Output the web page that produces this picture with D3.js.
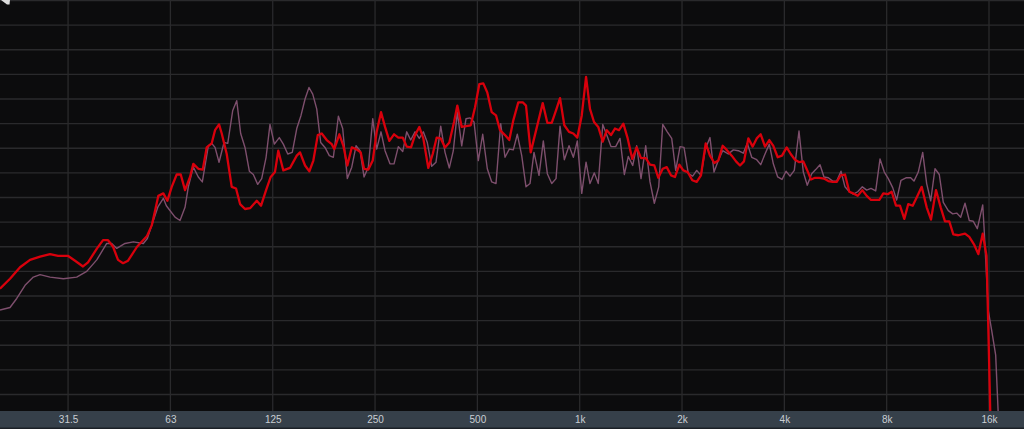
<!DOCTYPE html>
<html>
<head>
<meta charset="utf-8">
<script src="https://cdn.jsdelivr.net/npm/d3@7/dist/d3.min.js"></script>
<style>
  html, body { margin: 0; padding: 0; background: #0c0c0d; overflow: hidden; }
  svg { display: block; }
</style>
</head>
<body>
<svg id="chart" width="1024" height="429"></svg>
<script>
// ---- data (frequency in Hz, level in dB) ----
const tickFreqs  = [31.25, 62.5, 125, 250, 500, 1000, 2000, 4000, 8000, 16000];
const tickLabels = ["31.5", "63", "125", "250", "500", "1k", "2k", "4k", "8k", "16k"];
const gridLevels = [0, -3, -6, -9, -12, -15, -18, -21, -24, -27, -30, -33, -36, -39, -42, -45, -48];

const redFreq = [19.7,21.09,22.57,24.15,25.85,27.66,29.2,31.2,32.76,34.58,35.77,38.02,39.6,40.97,42.38,43.83,45.35,46.91,49.86,53.35,
55.08,56.33,57.6,59.58,61.22,63.06,65.23,67.03,69.01,71.38,73.0,75.51,77.8,79.93,82.69,84.56,86.89,88.49,91.53,94.69,
97.49,100.2,103.6,107.2,112.2,115.5,119.5,123.3,126.9,129.8,134.3,140.5,147.1,150.4,155.6,160.2,164.6,169.6,174.2,180.2,
186.4,189.7,196.3,201.7,207.2,213.5,219.8,226.9,232.0,238.9,246.1,252.8,260.3,267.5,275.4,284.3,292.7,301.5,309.8,319.0,
327.8,337.4,346.7,358.6,369.5,379.6,390.1,401.6,413.5,426.9,436.5,449.7,463.0,478.0,492.2,506.6,520.5,534.8,551.0,567.3,
582.9,602.9,620.7,637.8,659.8,679.8,695.1,717.6,778.4,803.1,827.4,851.8,875.2,901.1,930.3,957.8,984.1,1014,1044,1072,
1102,1134,1169,1201,1236,1270,1305,1344,1384,1428,1471,1515,1564,1610,1658,1703,1755,1803,1856,1907,
1964,2017,2078,2144,2209,2274,2348,2417,2489,2557,2634,2707,2800,2883,2962,3043,3134,3228,3317,3408,
3509,3613,3712,3824,3937,4064,4176,4299,4426,4548,4672,4791,4923,5068,5232,5387,5550,5703,5859,6032,
6211,6381,6575,6783,6988,7194,7392,7611,7820,8055,8276,8521,8755,9014,9261,9542,9803,10141,10490,10802,
11173,11534,11876,12227,12563,12997,13600,14001,14453,14883,15333,15733,15926,16183];
const redLevel = [-35.1,-33.9,-32.5,-31.6,-31.2,-30.9,-31.1,-31.1,-31.7,-32.4,-31.9,-30.2,-29.2,-29.2,-30.0,-31.6,-32.0,-31.7,-30.0,-28.7,
-27.4,-25.6,-23.8,-23.5,-24.4,-22.7,-21.2,-21.2,-23.1,-21.5,-19.9,-20.5,-20.6,-17.9,-17.4,-15.8,-15.1,-16.2,-18.7,-22.7,
-22.9,-24.8,-25.4,-25.3,-24.4,-25.0,-23.1,-21.5,-20.9,-18.3,-20.7,-20.4,-18.9,-18.5,-20.1,-20.8,-19.5,-16.4,-16.2,-17.0,
-17.5,-18.1,-16.3,-17.7,-20.1,-17.9,-18.1,-18.5,-20.5,-20.6,-19.5,-16.0,-13.6,-15.4,-17.1,-16.3,-16.7,-16.7,-17.8,-17.9,
-16.4,-15.4,-16.8,-20.4,-18.7,-16.7,-16.8,-17.9,-17.3,-14.8,-12.8,-15.4,-15.3,-15.2,-13.0,-10.2,-10.1,-11.2,-13.6,-14.0,
-15.8,-16.4,-17.0,-14.6,-12.4,-12.4,-12.8,-18.5,-12.5,-14.9,-14.9,-13.4,-11.9,-15.2,-16.0,-16.2,-16.7,-14.0,-9.3,-13.2,
-14.8,-15.4,-17.2,-15.8,-16.4,-15.6,-15.8,-15.0,-16.8,-19.3,-17.9,-19.2,-19.2,-20.0,-20.1,-21.6,-20.5,-20.3,-21.3,-21.5,
-20.0,-20.7,-20.9,-21.9,-22.1,-21.3,-17.4,-18.9,-19.8,-19.5,-17.7,-18.2,-18.9,-19.6,-20.1,-19.6,-16.8,-17.8,-16.8,-16.3,
-17.8,-17.0,-17.7,-19.1,-18.9,-17.9,-18.7,-19.4,-19.7,-19.6,-20.7,-21.8,-21.6,-21.6,-21.7,-22.0,-22.1,-22.1,-21.3,-21.2,
-23.3,-23.5,-23.8,-23.1,-23.8,-24.3,-24.3,-24.3,-23.5,-23.6,-23.3,-25.0,-25.0,-26.6,-24.8,-25.0,-24.0,-22.7,-25.2,-26.7,
-23.1,-25.2,-26.9,-26.9,-28.5,-28.6,-28.4,-28.8,-29.7,-30.9,-28.4,-31.1,-39.8,-52.4];

const mauveFreq = [19.7,21.09,22.07,23.35,24.7,25.85,27.66,30.27,33.13,35.46,37.95,40.61,42.0,43.45,45.96,48.62,52.03,53.46,55.68,57.49,
59.58,60.81,64.49,66.71,69.01,70.57,73.0,75.51,77.59,80.81,82.69,84.56,86.89,89.87,92.16,95.33,97.95,100.6,103.6,106.7,
109.6,112.9,116.0,119.5,122.7,126.4,130.7,134.3,138.4,142.7,147.1,151.4,155.6,159.8,163.9,168.4,173.0,178.1,183.4,188.5,
195.0,200.8,207.2,213.5,219.8,225.8,232.0,238.9,246.1,252.8,260.3,267.5,276.6,284.3,292.7,301.5,309.8,318.3,327.8,337.4,
346.7,356.2,367.0,377.8,390.1,401.6,413.5,424.8,436.5,449.7,463.0,475.8,488.8,503.2,518.4,534.8,551.0,567.3,585.6,602.9,
620.7,637.8,655.4,675.2,695.1,714.2,733.8,759.1,781.6,803.1,827.4,851.8,875.2,901.1,930.3,957.8,984.1,1014,1044,1072,
1104,1134,1169,1201,1236,1276,1314,1353,1390,1432,1471,1515,1564,1610,1658,1708,1755,1810,1865,1916,
1973,2027,2087,2150,2209,2274,2342,2417,2484,2557,2634,2736,2831,2928,3029,3112,3207,3317,3408,3509,
3613,3712,3824,3937,4045,4156,4279,4417,4548,4672,4814,4946,5093,5232,5387,5550,5703,5871,6032,6211,
6381,6575,6783,6988,7194,7427,7647,7873,8088,8333,8561,8815,9118,9413,9625,9911,10211,10490,10779,11098,
11425,11740,12145,12513,12856,13209,13600,14001,14386,14782,15333,15466,15926,16293,16741,17118];
const mauveLevel = [-37.7,-37.4,-36.3,-34.7,-33.7,-33.4,-33.7,-33.9,-33.7,-33.0,-31.6,-29.6,-29.6,-30.2,-29.6,-29.4,-29.6,-29.0,-26.8,-25.1,
-24.1,-25.0,-26.4,-26.8,-25.2,-22.7,-20.3,-21.5,-22.1,-17.7,-17.4,-17.9,-19.7,-17.3,-17.4,-13.4,-12.2,-16.2,-17.9,-20.8,
-21.2,-22.4,-21.7,-19.1,-15.1,-17.5,-16.7,-17.5,-18.7,-18.5,-15.6,-14.0,-12.0,-10.6,-11.4,-13.2,-17.3,-17.9,-18.9,-19.1,
-14.1,-15.6,-21.7,-20.3,-17.7,-18.3,-21.5,-20.3,-14.4,-18.1,-16.0,-18.3,-19.9,-19.9,-17.8,-18.4,-16.0,-17.0,-16.0,-16.8,
-16.0,-17.3,-20.2,-19.7,-15.3,-18.5,-20.4,-18.3,-13.6,-17.7,-14.4,-14.3,-14.8,-19.5,-16.3,-20.5,-22.1,-22.3,-15.0,-19.1,
-18.1,-18.2,-16.3,-18.9,-22.7,-22.3,-18.5,-21.3,-17.1,-21.1,-22.3,-21.7,-15.3,-19.4,-17.7,-19.1,-17.1,-23.5,-19.7,-22.3,
-21.0,-22.3,-15.1,-16.4,-17.8,-17.8,-16.8,-21.2,-19.0,-20.1,-17.7,-21.7,-17.7,-22.1,-24.7,-22.7,-15.1,-16.0,-16.8,-20.7,
-17.8,-17.9,-21.1,-21.4,-20.7,-21.3,-18.1,-16.7,-20.9,-19.5,-18.3,-18.7,-18.2,-18.3,-18.6,-17.4,-19.1,-19.4,-20.0,-18.7,
-17.5,-19.9,-21.5,-21.8,-20.8,-21.4,-20.7,-15.9,-20.9,-22.5,-21.1,-20.6,-20.0,-21.5,-21.6,-22.0,-22.0,-20.8,-22.7,-23.3,
-23.6,-23.3,-22.7,-23.1,-22.9,-23.2,-19.3,-20.9,-21.7,-22.8,-24.3,-21.9,-21.6,-21.6,-22.0,-20.9,-18.5,-22.3,-24.4,-20.5,
-21.2,-24.6,-25.6,-26.0,-25.9,-26.4,-24.7,-26.8,-26.9,-27.8,-24.9,-27.5,-37.8,-40.2,-43.2,-52.4];

// ---- chart ----
const W = 1024, H = 429, plotBottom = 411;
const svg = d3.select("#chart");

const x = d3.scaleLog().domain([1000, 16000]).range([579.7, 989.0]);
const y = d3.scaleLinear().domain([0, -48]).range([0.5, 394.5]);

svg.append("rect").attr("x", 0).attr("y", 0).attr("width", W).attr("height", H).attr("fill", "#0c0c0d");

// horizontal grid
svg.append("g")
  .selectAll("line").data(gridLevels).join("line")
  .attr("x1", 0).attr("x2", W)
  .attr("y1", d => y(d)).attr("y2", d => y(d))
  .attr("stroke", "#2a2a2c").attr("stroke-width", 1.3);

// vertical grid
svg.append("g")
  .selectAll("line").data(tickFreqs).join("line")
  .attr("x1", d => x(d)).attr("x2", d => x(d))
  .attr("y1", 0).attr("y2", plotBottom)
  .attr("stroke", "#2a2a2c").attr("stroke-width", 1.3);

// clip for curves
svg.append("clipPath").attr("id", "plotClip")
  .append("rect").attr("x", 0).attr("y", 0).attr("width", W).attr("height", plotBottom);

const line = d3.line().x(d => x(d[0])).y(d => y(d[1])).curve(d3.curveLinear);

const curves = svg.append("g").attr("clip-path", "url(#plotClip)");
curves.append("path")
  .datum(d3.zip(mauveFreq, mauveLevel))
  .attr("d", line)
  .attr("fill", "none")
  .attr("stroke", "#7e4f6d")
  .attr("stroke-width", 1.4)
  .attr("stroke-linejoin", "round");
curves.append("path")
  .datum(d3.zip(redFreq, redLevel))
  .attr("d", line)
  .attr("fill", "none")
  .attr("stroke", "#d8000c")
  .attr("stroke-width", 2.3)
  .attr("stroke-linejoin", "round");

// axis bar
svg.append("rect").attr("x", 0).attr("y", plotBottom).attr("width", W).attr("height", H - plotBottom).attr("fill", "#36404a");
svg.append("rect").attr("x", 0).attr("y", H - 1.5).attr("width", W).attr("height", 1.5).attr("fill", "#1b2026");

const axis = d3.axisBottom(x)
  .tickValues(tickFreqs)
  .tickFormat((d, i) => tickLabels[i])
  .tickSize(0)
  .tickPadding(5);
const ax = svg.append("g").attr("transform", `translate(0,${plotBottom})`).call(axis);
ax.select(".domain").remove();
ax.selectAll("text")
  .attr("fill", "#c9ced3")
  .attr("font-family", "'Liberation Sans', Arial, sans-serif")
  .attr("font-size", 10);

// small marker in the top-left corner
svg.append("path").attr("d", "M1,0 L10,0 L9.5,4.5 L7,4.5 Z").attr("fill", "#dcdcdc");
</script>
</body>
</html>
